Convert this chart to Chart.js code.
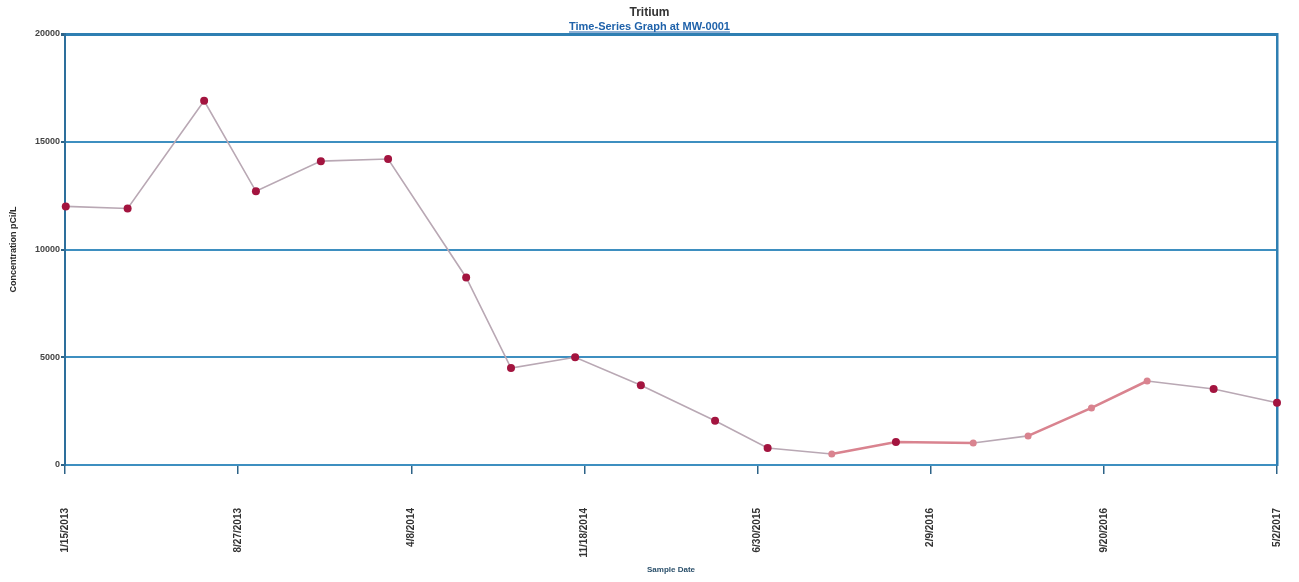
<!DOCTYPE html>
<html>
<head>
<meta charset="utf-8">
<title>Tritium</title>
<script src="https://cdn.jsdelivr.net/npm/chart.js@4/dist/chart.umd.min.js"></script>
<style>
  html, body { margin: 0; padding: 0; background: #fff; }
  #wrap { width: 1299px; height: 582px; position: relative; }
</style>
</head>
<body>
<div id="wrap"><canvas id="lineChart"></canvas></div>
<script>
// data
const startDate = '2013-01-15';
const sampleDates = [
  '2013-01-16', '2013-04-06', '2013-07-14', '2013-09-19', '2013-12-12',
  '2014-03-09', '2014-06-18', '2014-08-15', '2014-11-06', '2015-01-30',
  '2015-05-06', '2015-07-13', '2015-10-04', '2015-12-26', '2016-04-04',
  '2016-06-14', '2016-09-04', '2016-11-15', '2017-02-09', '2017-05-02'
];
const tritium = [
  12000, 11900, 16900, 12700, 14100,
  14200, 8700, 4500, 5000, 3700,
  2050, 790, 510, 1070, 1020,
  1350, 2650, 3900, 3530, 2890
];
const dateTicks = [
  '1/15/2013', '8/27/2013', '4/8/2014', '11/18/2014',
  '6/30/2015', '2/9/2016', '9/20/2016', '5/2/2017'
];
const yTicks = [0, 5000, 10000, 15000, 20000];
const tickStepDays = 224;

// which points / segments are drawn in the lighter pink
const pinkPoints = [12, 14, 15, 16, 17];
const pinkSegments = [12, 13, 15, 16];

const dayMs = 86400000;
const points = sampleDates.map(function (d, i) {
  return { x: (Date.parse(d) - Date.parse(startDate)) / dayMs, y: tritium[i] };
});

const darkRed = '#a3143f';
const pink = '#d9838f';
const greyLine = '#b9a8b4';
const gridBlue = '#3e8fc0';

// underline for the subtitle
const underline = {
  id: 'underline',
  afterDraw: function (chart) {
    const ctx = chart.ctx;
    const sub = chart.options.plugins.subtitle;
    ctx.save();
    ctx.font = 'bold ' + sub.font.size + 'px ' + sub.font.family;
    const w = ctx.measureText(sub.text).width;
    const cx = chart.width / 2;
    ctx.strokeStyle = sub.color;
    ctx.lineWidth = 1.2;
    ctx.beginPath();
    ctx.moveTo(cx - w / 2, 32);
    ctx.lineTo(cx + w / 2, 32);
    ctx.stroke();
    ctx.restore();
  }
};

const ctx = document.getElementById('lineChart').getContext('2d');
const lineChart = new Chart(ctx, {
  type: 'line',
  data: {
    datasets: [{
      label: 'Tritium',
      data: points,
      borderColor: greyLine,
      borderWidth: 1.6,
      tension: 0,
      clip: false,
      pointRadius: points.map(function (p, i) { return pinkPoints.includes(i) ? 3.5 : 4; }),
      pointBackgroundColor: points.map(function (p, i) { return pinkPoints.includes(i) ? pink : darkRed; }),
      pointBorderColor: points.map(function (p, i) { return pinkPoints.includes(i) ? pink : darkRed; }),
      pointBorderWidth: 0,
      segment: {
        borderColor: function (c) { return pinkSegments.includes(c.p0DataIndex) ? pink : greyLine; },
        borderWidth: function (c) { return pinkSegments.includes(c.p0DataIndex) ? 2.6 : 1.6; }
      }
    }]
  },
  plugins: [underline],
  options: {
    responsive: true,
    maintainAspectRatio: false,
    animation: false,
    layout: { padding: 0 },
    plugins: {
      legend: { display: false },
      tooltip: { enabled: false },
      title: {
        display: true,
        text: 'Tritium',
        color: '#333',
        font: { family: 'Liberation Sans', size: 12, weight: 'bold' },
        padding: { top: 5, bottom: 0 }
      },
      subtitle: {
        display: true,
        text: 'Time-Series Graph at MW-0001',
        color: '#1f62aa',
        font: { family: 'Liberation Sans', size: 11, weight: 'bold' },
        padding: { top: 1.4, bottom: 0 }
      }
    },
    scales: {
      x: {
        type: 'linear',
        min: 0,
        max: tickStepDays * (dateTicks.length - 1),
        afterFit: function (scale) {
          scale.height = 117;
          // the label padding below the axis must not shrink the plot sideways
          scale.paddingLeft = 6;
          scale.paddingRight = 6;
        },
        afterBuildTicks: function (scale) {
          scale.ticks = dateTicks.map(function (t, i) { return { value: i * tickStepDays }; });
        },
        ticks: {
          autoSkip: false,
          maxRotation: 90,
          minRotation: 90,
          padding: 34,
          color: '#333',
          font: { family: 'Liberation Sans', size: 10, weight: 'bold' },
          callback: function (value, index) { return dateTicks[index]; }
        },
        grid: {
          drawOnChartArea: false,
          drawTicks: true,
          tickLength: 9,
          color: '#2d6387',
          lineWidth: 1.5
        },
        border: { color: gridBlue, width: 2 },
        title: {
          display: true,
          text: 'Sample Date',
          color: '#2a4f6a',
          font: { family: 'Liberation Sans', size: 8, weight: 'bold' },
          padding: { top: 0, bottom: 7 }
        }
      },
      y: {
        min: 0,
        max: 20000,
        afterFit: function (scale) { scale.width = 65; },
        afterBuildTicks: function (scale) {
          scale.ticks = yTicks.map(function (v) { return { value: v }; });
        },
        ticks: {
          padding: 1,
          color: '#444',
          font: { family: 'Liberation Sans', size: 9, weight: 'bold' },
          callback: function (value) { return String(value); }
        },
        grid: {
          color: function (c) { return c.tick && c.tick.value === 20000 ? '#2f7fb2' : gridBlue; },
          lineWidth: function (c) { return c.tick && c.tick.value === 20000 ? 3 : 2; },
          tickLength: 4,
          tickColor: '#2d6387'
        },
        border: { color: '#2d6f9c', width: 2 },
        title: {
          display: true,
          text: 'Concentration pCi/L',
          color: '#2b2b2b',
          font: { family: 'Liberation Sans', size: 9, weight: 'bold' },
          padding: { top: 8, bottom: 0 }
        }
      },
      yRight: {
        position: 'right',
        min: 0,
        max: 20000,
        afterFit: function (scale) { scale.width = 22; },
        ticks: { display: false },
        grid: { display: false, drawTicks: false },
        border: { color: '#2f7fb2', width: 2.5 }
      }
    }
  }
});
</script>
</body>
</html>
